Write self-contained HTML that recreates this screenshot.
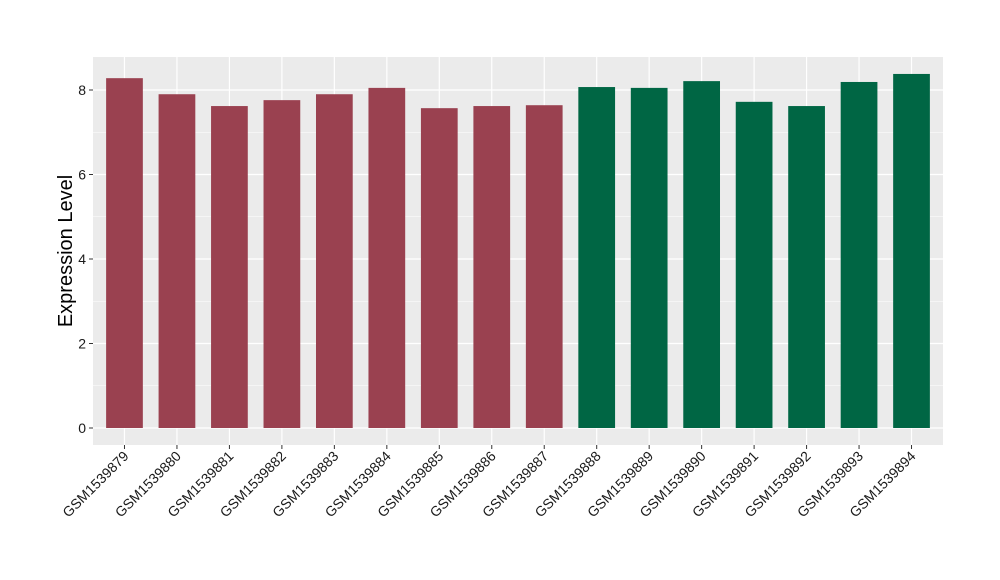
<!DOCTYPE html>
<html><head><meta charset="utf-8"><style>
body{margin:0;background:#fff;}
svg{display:block;font-family:"Liberation Sans",Arial,sans-serif;}
</style></head><body>
<svg id="chart" width="1000" height="580">
<rect x="93" y="57" width="850" height="388" fill="#EBEBEB"/>
<g id="grid"></g><g id="bars"></g><g id="axes"></g>
<text x="0" y="0" transform="translate(72,251) rotate(-90)" text-anchor="middle" font-size="20" fill="#000">Expression Level</text>
</svg>
<script>
const categories=["GSM1539879","GSM1539880","GSM1539881","GSM1539882","GSM1539883","GSM1539884","GSM1539885","GSM1539886","GSM1539887","GSM1539888","GSM1539889","GSM1539890","GSM1539891","GSM1539892","GSM1539893","GSM1539894"];
const values=[8.28,7.9,7.62,7.76,7.9,8.05,7.57,7.62,7.64,8.07,8.05,8.21,7.72,7.62,8.19,8.38];
const groups=[0,0,0,0,0,0,0,0,0,1,1,1,1,1,1,1];
const yTicks=[0,2,4,6,8];
const colors=["#9A4150","#006644"];
const NS="http://www.w3.org/2000/svg";
const px0=93,px1=943,y0=428,yPer=42.25;
const step=(px1-px0)/(categories.length-1+1.2);
const xs=i=>px0+step*(0.6+i);
const ys=v=>y0-v*yPer;
function mk(t,a,parent){const e=document.createElementNS(NS,t);for(const k in a)e.setAttribute(k,a[k]);parent.appendChild(e);return e;}
const grid=document.getElementById('grid'),bars=document.getElementById('bars'),axes=document.getElementById('axes');
for(let k=0;k<yTicks.length-1;k++){const m=(yTicks[k]+yTicks[k+1])/2;
 const l=mk('line',{x1:px0,x2:px1,y1:ys(m),y2:ys(m),stroke:'#fff','stroke-width':0.6},grid);
 
 }
yTicks.forEach(t=>{
 const l=mk('line',{x1:px0,x2:px1,y1:ys(t),y2:ys(t),stroke:'#fff','stroke-width':1.2},grid);
 
 
 const tk=mk('line',{x1:px0-4,x2:px0,y1:ys(t),y2:ys(t),stroke:'#333','stroke-width':1},axes);
 
 
 const tx=mk('text',{x:px0-7,y:ys(t)+5,'text-anchor':'end','font-size':14,fill:'#1A1A1A'},axes);
 tx.textContent=t;
 
 
});
categories.forEach((c,i)=>{
 const x=xs(i);
 const l=mk('line',{x1:x,x2:x,y1:57,y2:445,stroke:'#fff','stroke-width':1.2},grid);
 
 
 const w=step*0.7;
 const b=mk('rect',{x:x-w/2,y:ys(values[i]),width:w,height:y0-ys(values[i]),fill:colors[groups[i]]},bars);
 
 
 const tk=mk('line',{x1:x,x2:x,y1:445,y2:449,stroke:'#333','stroke-width':1},axes);
 
 
 const tx=mk('text',{x:0,y:0,'text-anchor':'end','font-size':14,fill:'#1A1A1A',transform:`translate(${x+5},${457}) rotate(-45)`},axes);
 tx.textContent=c;
 
 
});
</script>
</body></html>
